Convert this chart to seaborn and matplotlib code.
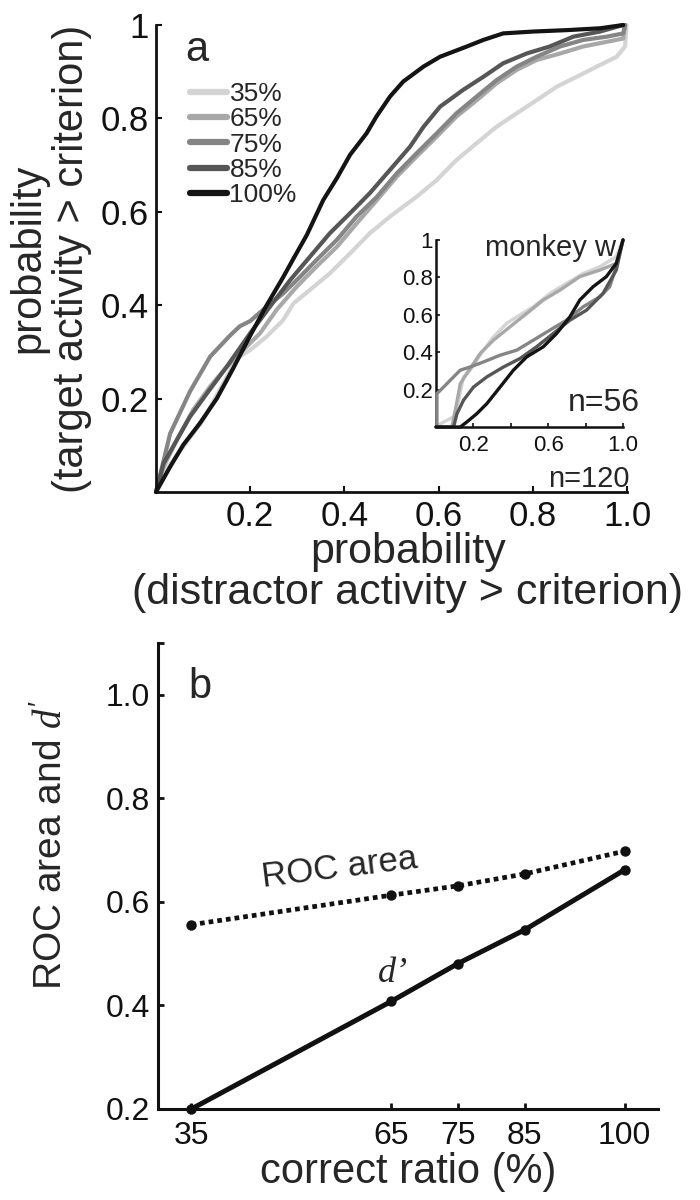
import numpy as np
import pandas as pd
import seaborn as sns
import matplotlib.pyplot as plt

# panel a: ROC curves for the 5 correct-ratio groups (all cells, n=120)
levels = ["35%", "65%", "75%", "85%", "100%"]
grays = ["#d4d4d4", "#a8a8a8", "#858585", "#565656", "#141414"]

a35_x = [0.0, 0.016, 0.058, 0.100, 0.143, 0.171, 0.200, 0.235, 0.270, 0.292, 0.327, 0.369, 0.412,
         0.454, 0.497, 0.553, 0.596, 0.638, 0.681, 0.723, 0.766, 0.808, 0.851, 0.893, 0.936, 0.978,
         0.996, 0.999]
a35_y = [0.0, 0.040, 0.097, 0.154, 0.233, 0.286, 0.304, 0.333, 0.368, 0.404, 0.433, 0.468, 0.511,
         0.554, 0.590, 0.632, 0.668, 0.711, 0.747, 0.782, 0.811, 0.839, 0.868, 0.889, 0.911, 0.932,
         0.954, 1.0]

a65_x = [0.0, 0.016, 0.044, 0.079, 0.115, 0.150, 0.185, 0.221, 0.256, 0.299, 0.341, 0.384, 0.426,
         0.469, 0.511, 0.553, 0.596, 0.638, 0.681, 0.723, 0.766, 0.808, 0.858, 0.907, 0.957, 0.992,
         0.996]
a65_y = [0.0, 0.054, 0.111, 0.176, 0.226, 0.268, 0.304, 0.340, 0.390, 0.440, 0.483, 0.525, 0.575,
         0.625, 0.675, 0.718, 0.761, 0.804, 0.839, 0.875, 0.904, 0.925, 0.939, 0.954, 0.964, 0.971,
         1.0]

a75_x = [0.0, 0.030, 0.072, 0.115, 0.157, 0.178, 0.200, 0.235, 0.270, 0.306, 0.341, 0.384, 0.426,
         0.469, 0.511, 0.553, 0.596, 0.638, 0.681, 0.723, 0.766, 0.808, 0.858, 0.907, 0.957, 0.992,
         0.996]
a75_y = [0.0, 0.125, 0.215, 0.290, 0.335, 0.355, 0.366, 0.397, 0.425, 0.461, 0.497, 0.540, 0.590,
         0.632, 0.682, 0.725, 0.768, 0.811, 0.847, 0.882, 0.911, 0.932, 0.954, 0.968, 0.975, 0.982,
         1.0]

a85_x = [0.0, 0.016, 0.044, 0.072, 0.108, 0.150, 0.200, 0.242, 0.285, 0.327, 0.369, 0.412, 0.454,
         0.497, 0.539, 0.568, 0.603, 0.652, 0.695, 0.737, 0.787, 0.836, 0.886, 0.943, 0.992]
a85_y = [0.0, 0.061, 0.111, 0.161, 0.211, 0.268, 0.340, 0.397, 0.454, 0.504, 0.554, 0.597, 0.640,
         0.690, 0.739, 0.782, 0.825, 0.861, 0.889, 0.918, 0.939, 0.954, 0.975, 0.986, 1.0]

a100_x = [0.0, 0.030, 0.058, 0.093, 0.129, 0.164, 0.200, 0.235, 0.270, 0.292, 0.320, 0.355, 0.384,
          0.412, 0.447, 0.468, 0.497, 0.525, 0.568, 0.603, 0.660, 0.695, 0.737, 0.801, 0.872, 0.943,
          0.992]
a100_y = [0.0, 0.054, 0.101, 0.147, 0.200, 0.265, 0.335, 0.400, 0.460, 0.500, 0.550, 0.625, 0.672,
          0.722, 0.768, 0.804, 0.847, 0.879, 0.911, 0.932, 0.954, 0.968, 0.982, 0.986, 0.989, 0.993,
          1.0]

# inset: monkey w (n=56)
w35_x = [0.0, 0.041, 0.094, 0.121, 0.147, 0.183, 0.254, 0.307, 0.378, 0.432, 0.520, 0.609, 0.698,
         0.787, 0.876, 0.964, 1.0]
w35_y = [0.0, 0.027, 0.054, 0.143, 0.268, 0.304, 0.411, 0.482, 0.554, 0.589, 0.643, 0.714, 0.768,
         0.821, 0.857, 0.911, 1.0]
w65_x = [0.085, 0.103, 0.130, 0.165, 0.236, 0.307, 0.396, 0.485, 0.574, 0.663, 0.769, 0.876, 0.964, 1.0]
w65_y = [0.0, 0.089, 0.232, 0.286, 0.393, 0.464, 0.536, 0.607, 0.679, 0.732, 0.804, 0.839, 0.875, 1.0]
w75_x = [0.005, 0.005, 0.041, 0.076, 0.130, 0.183, 0.254, 0.343, 0.432, 0.520, 0.609, 0.698, 0.787,
         0.876, 0.929, 0.964, 1.0]
w75_y = [0.0, 0.179, 0.214, 0.250, 0.304, 0.321, 0.348, 0.384, 0.411, 0.464, 0.518, 0.571, 0.643,
         0.696, 0.750, 0.857, 1.0]
w85_x = [0.0, 0.094, 0.112, 0.147, 0.201, 0.272, 0.361, 0.449, 0.538, 0.627, 0.716, 0.805, 0.893, 0.964, 1.0]
w85_y = [0.0, 0.0, 0.071, 0.143, 0.214, 0.268, 0.321, 0.366, 0.429, 0.500, 0.571, 0.625, 0.714, 0.839, 1.0]
w100_x = [0.0, 0.130, 0.165, 0.218, 0.272, 0.343, 0.414, 0.485, 0.574, 0.645, 0.716, 0.769, 0.840,
          0.911, 0.964, 1.0]
w100_y = [0.0, 0.0, 0.027, 0.071, 0.125, 0.214, 0.304, 0.375, 0.429, 0.500, 0.589, 0.679, 0.750,
          0.804, 0.875, 1.0]

# panel b
ratio = [35, 65, 75, 85, 100]
roc_area = [0.556, 0.613, 0.631, 0.654, 0.698]
dprime = [0.200, 0.408, 0.481, 0.546, 0.662]


def long_table(xs, ys):
    parts = []
    for lev, x, y in zip(levels, xs, ys):
        parts.append(pd.DataFrame({"x": x, "y": y, "level": lev, "i": range(len(x))}))
    return pd.concat(parts, ignore_index=True)


sns.set_style("ticks")
plt.rcParams['font.family'] = ['Liberation Sans', 'DejaVu Sans']
plt.rcParams['mathtext.fontset'] = 'custom'
plt.rcParams['mathtext.rm'] = 'Liberation Sans'
plt.rcParams['mathtext.it'] = 'Liberation Serif:italic'

fig = plt.figure(figsize=(7, 12), dpi=100)

# ---------------- panel a ----------------
ax = fig.add_axes([156 / 700, 1 - 492 / 1200, 471 / 700, 467 / 1200])
df_a = long_table([a35_x, a65_x, a75_x, a85_x, a100_x], [a35_y, a65_y, a75_y, a85_y, a100_y])
sns.lineplot(data=df_a, x="x", y="y", hue="level", hue_order=levels, palette=grays,
             sort=False, estimator=None, units="level", linewidth=3, legend=False, ax=ax)
for ln in ax.lines:
    ln.set_clip_on(False)
    ln.set_solid_joinstyle("round")

ax.set_xlim(0, 1)
ax.set_ylim(0, 1)
ax.set_xticks([0.2, 0.4, 0.6, 0.8, 1.0])
ax.set_xticklabels(["0.2", "0.4", "0.6", "0.8", "1.0"])
ax.set_yticks([0.2, 0.4, 0.6, 0.8, 1.0])
ax.set_yticklabels(["0.2", "0.4", "0.6", "0.8", "1"])
ax.tick_params(direction="in", length=4, width=1.5, labelsize=25, colors="#111111")
ax.tick_params(axis="x", pad=6)
ax.tick_params(axis="y", pad=5)
sns.despine(ax=ax)
for s in ["left", "bottom"]:
    ax.spines[s].set_linewidth(2)
    ax.spines[s].set_color("#111111")
ax.set_facecolor("none")

ax.set_xlabel("probability\n(distractor activity > criterion)", fontsize=31, linespacing=1.05)
ax.xaxis.set_label_coords(0.535, -0.085)
ax.set_ylabel("probability\n(target activity > criterion)", fontsize=30, linespacing=1.12)
ax.yaxis.set_label_coords(-0.135, 0.5)

handles = [plt.Line2D([], [], color=c, lw=4.5) for c in grays]
ax.legend(handles, levels, loc="upper left", bbox_to_anchor=(0.072, 0.878), frameon=False,
          fontsize=19, handlelength=1.4, handletextpad=0.1, labelspacing=0.05,
          borderpad=0, borderaxespad=0)
ax.text(0.087, 0.946, "a", transform=ax.transAxes, fontsize=30, ha="center", va="center")
ax.text(1.006, 0.011, "n=120", transform=ax.transAxes, fontsize=21, ha="right", va="baseline")

# inset
axi = fig.add_axes([436 / 700, 1 - 427 / 1200, 187 / 700, 187 / 1200])
df_w = long_table([w35_x, w65_x, w75_x, w85_x, w100_x], [w35_y, w65_y, w75_y, w85_y, w100_y])
sns.lineplot(data=df_w, x="x", y="y", hue="level", hue_order=levels, palette=grays,
             sort=False, estimator=None, units="level", linewidth=2.4, legend=False, ax=axi,
             zorder=3)
for ln in axi.lines:
    ln.set_clip_on(False)
axi.set_xlim(0, 1)
axi.set_ylim(0, 1)
axi.set_xticks([0.2, 0.4, 0.6, 0.8, 1.0])
axi.set_xticklabels(["0.2", "", "0.6", "", "1.0"])
axi.set_yticks([0.2, 0.4, 0.6, 0.8, 1.0])
axi.set_yticklabels(["0.2", "0.4", "0.6", "0.8", "1"])
axi.tick_params(direction="in", length=3, width=1.2, labelsize=16, colors="#111111")
axi.tick_params(axis="x", pad=6)
axi.tick_params(axis="y", pad=2)
sns.despine(ax=axi)
for s in ["left", "bottom"]:
    axi.spines[s].set_linewidth(1.8)
    axi.spines[s].set_color("#111111")
axi.set_facecolor("none")
axi.set_xlabel("")
axi.set_ylabel("")
axi.text(0.26, 0.957, "monkey w", transform=axi.transAxes, fontsize=21, ha="left", va="center",
         zorder=1)
axi.text(1.09, 0.086, "n=56", transform=axi.transAxes, fontsize=23, ha="right", va="baseline")

# ---------------- panel b ----------------
axb = fig.add_axes([158 / 700, 1 - 1109 / 1200, 500 / 700, 466 / 1200])
df_b = pd.DataFrame({"ratio": ratio, "roc": roc_area, "dprime": dprime})
sns.lineplot(data=df_b, x="ratio", y="roc", ax=axb, color="#111111", linewidth=3.4,
             linestyle=(0, (1.0, 0.85)), marker="o", markersize=7.5, markeredgewidth=0,
             estimator=None)
sns.lineplot(data=df_b, x="ratio", y="dprime", ax=axb, color="#111111", linewidth=3.6,
             marker="o", markersize=7.5, markeredgewidth=0, estimator=None)
for ln in axb.lines:
    ln.set_clip_on(False)
    ln.set_dash_capstyle("butt")

axb.set_xlim(30, 105)
axb.set_ylim(0.2, 1.1)
axb.set_xticks(ratio)
axb.set_xticklabels([str(r) for r in ratio])
axb.set_yticks([0.2, 0.4, 0.6, 0.8, 1.0, 1.1])
axb.set_yticklabels(["0.2", "0.4", "0.6", "0.8", "1.0", ""])
axb.tick_params(direction="in", length=4, width=2, labelsize=23, colors="#111111")
axb.tick_params(axis="x", pad=9)
axb.tick_params(axis="y", pad=6)
sns.despine(ax=axb)
for s in ["left", "bottom"]:
    axb.spines[s].set_linewidth(2.2)
    axb.spines[s].set_color("#111111")

axb.set_xlabel("correct ratio (%)", fontsize=30)
axb.xaxis.set_label_coords(0.5, -0.092)
axb.set_ylabel("ROC area and $d'$", fontsize=28)
axb.yaxis.set_label_coords(-0.176, 0.567)

axb.text(0.084, 0.906, "b", transform=axb.transAxes, fontsize=30, ha="center", va="center")
axb.text(57.3, 0.665, "ROC area", fontsize=25, ha="center", va="center", rotation=7)
axb.text(65.2, 0.462, "d\u2019", fontsize=26, ha="center", va="center",
         family="Liberation Serif", style="italic")

fig.savefig("out.png", dpi=100)
